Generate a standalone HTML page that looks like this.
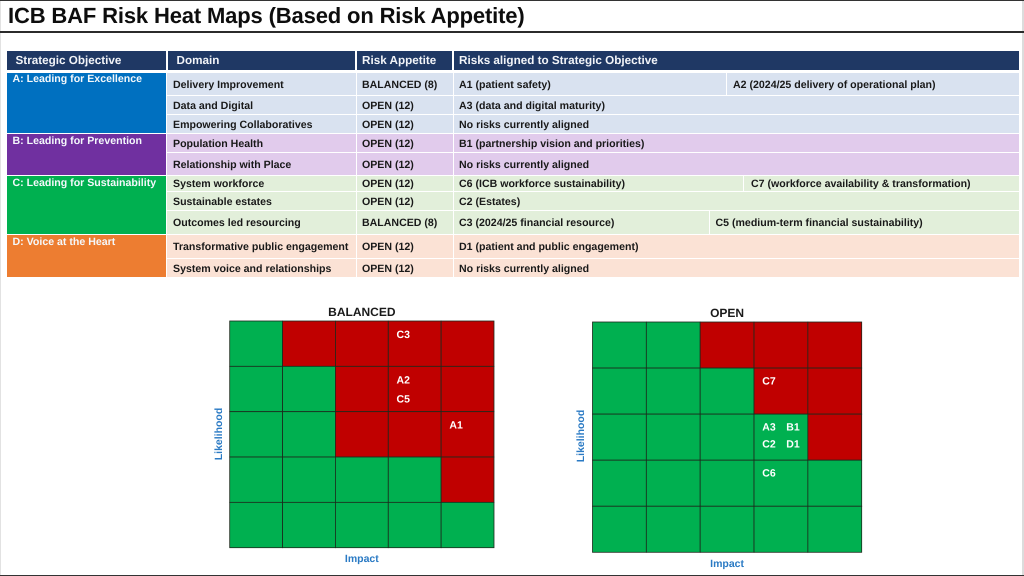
<!DOCTYPE html>
<html lang="en">
<head>
<meta charset="utf-8">
<title>ICB BAF Risk Heat Maps</title>
<style>
html,body{margin:0;padding:0;background:#fff}
#slide{position:relative;width:1024px;height:576px;overflow:hidden;background:#fff;font-family:"Liberation Sans",Arial,sans-serif;text-rendering:geometricPrecision}
#slide>div{position:absolute;box-sizing:border-box;display:flex;align-items:center;white-space:nowrap}
.h{background:#1f3864;color:#f2f4f8;font-weight:bold;font-size:11.7px}
.o{color:#f4f8fb;font-weight:bold;font-size:10.6px;align-items:flex-start !important;padding-left:5.5px}
.c{font-weight:bold;font-size:10.6px;color:#191919;padding-top:1.5px}
.a{background:#d9e2f0}.b{background:#e1cbec}.g{background:#e2efda}.d{background:#fbe2d5}
svg{position:absolute;left:0;top:0}
</style>
</head>
<body>
<div id="slide">
<div style="left:0;top:0;width:1024px;height:1px;background:#333"></div>
<div style="left:0;top:1px;width:1px;height:574px;background:#e2e2e2"></div>
<div style="left:1022px;top:1px;width:2px;height:574px;background:#dcdcdc"></div>
<div style="left:8px;top:1px;height:30px;font-size:22px;font-weight:bold;color:#0d0d0d;letter-spacing:-0.15px">ICB BAF Risk Heat Maps (Based on Risk Appetite)</div>
<div style="left:0;top:31px;width:1024px;height:2px;background:#2b2b2b"></div>
<div style="left:0;top:575px;width:1024px;height:1px;background:#333"></div>

<div class="h" style="left:7px;top:51px;width:159px;height:19px;padding-left:8.5px;padding-bottom:1px">Strategic Objective</div>
<div class="h" style="left:168px;top:51px;width:187px;height:19px;padding-left:8.5px;padding-bottom:1px">Domain</div>
<div class="h" style="left:357px;top:51px;width:95px;height:19px;padding-left:5px;padding-bottom:1px">Risk Appetite</div>
<div class="h" style="left:454px;top:51px;width:565px;height:19px;padding-left:5px;padding-bottom:1px">Risks aligned to Strategic Objective</div>

<div class="o" style="left:7px;top:73px;width:159px;height:60px;background:#0070c0;padding-top:0">A: Leading for Excellence</div>
<div class="o" style="left:7px;top:134px;width:159px;height:41px;background:#7030a0;padding-top:1px">B: Leading for Prevention</div>
<div class="o" style="left:7px;top:176px;width:159px;height:58px;background:#00b050;padding-top:1px">C: Leading for Sustainability</div>
<div class="o" style="left:7px;top:235px;width:159px;height:42px;background:#ed7d31;padding-top:1px">D: Voice at the Heart</div>

<div class="c a" style="left:167px;top:73px;width:189px;height:22px;padding-left:6px">Delivery Improvement</div>
<div class="c a" style="left:357px;top:73px;width:96px;height:22px;padding-left:5px">BALANCED (8)</div>
<div class="c a" style="left:454px;top:73px;width:272px;height:22px;padding-left:5px">A1 (patient safety)</div>
<div class="c a" style="left:727px;top:73px;width:292px;height:22px;padding-left:6px">A2 (2024/25 delivery of operational plan)</div>

<div class="c a" style="left:167px;top:96px;width:189px;height:18px;padding-left:6px">Data and Digital</div>
<div class="c a" style="left:357px;top:96px;width:96px;height:18px;padding-left:5px">OPEN (12)</div>
<div class="c a" style="left:454px;top:96px;width:565px;height:18px;padding-left:5px">A3 (data and digital maturity)</div>

<div class="c a" style="left:167px;top:115px;width:189px;height:18px;padding-left:6px">Empowering Collaboratives</div>
<div class="c a" style="left:357px;top:115px;width:96px;height:18px;padding-left:5px">OPEN (12)</div>
<div class="c a" style="left:454px;top:115px;width:565px;height:18px;padding-left:5px">No risks currently aligned</div>

<div class="c b" style="left:167px;top:134px;width:189px;height:18px;padding-left:6px">Population Health</div>
<div class="c b" style="left:357px;top:134px;width:96px;height:18px;padding-left:5px">OPEN (12)</div>
<div class="c b" style="left:454px;top:134px;width:565px;height:18px;padding-left:5px">B1 (partnership vision and priorities)</div>

<div class="c b" style="left:167px;top:153px;width:189px;height:22px;padding-left:6px">Relationship with Place</div>
<div class="c b" style="left:357px;top:153px;width:96px;height:22px;padding-left:5px">OPEN (12)</div>
<div class="c b" style="left:454px;top:153px;width:565px;height:22px;padding-left:5px">No risks currently aligned</div>

<div class="c g" style="left:167px;top:176px;width:189px;height:15px;padding-left:6px">System workforce</div>
<div class="c g" style="left:357px;top:176px;width:96px;height:15px;padding-left:5px">OPEN (12)</div>
<div class="c g" style="left:454px;top:176px;width:289px;height:15px;padding-left:5px">C6 (ICB workforce sustainability)</div>
<div class="c g" style="left:744px;top:176px;width:275px;height:15px;padding-left:7px">C7 (workforce availability &amp; transformation)</div>

<div class="c g" style="left:167px;top:192px;width:189px;height:18px;padding-left:6px">Sustainable estates</div>
<div class="c g" style="left:357px;top:192px;width:96px;height:18px;padding-left:5px">OPEN (12)</div>
<div class="c g" style="left:454px;top:192px;width:565px;height:18px;padding-left:5px">C2 (Estates)</div>

<div class="c g" style="left:167px;top:211px;width:189px;height:23px;padding-left:6px">Outcomes led resourcing</div>
<div class="c g" style="left:357px;top:211px;width:96px;height:23px;padding-left:5px">BALANCED (8)</div>
<div class="c g" style="left:454px;top:211px;width:255px;height:23px;padding-left:5px">C3 (2024/25 financial resource)</div>
<div class="c g" style="left:710px;top:211px;width:309px;height:23px;padding-left:5.5px">C5 (medium-term financial sustainability)</div>

<div class="c d" style="left:167px;top:235px;width:189px;height:23px;padding-left:6px">Transformative public engagement</div>
<div class="c d" style="left:357px;top:235px;width:96px;height:23px;padding-left:5px">OPEN (12)</div>
<div class="c d" style="left:454px;top:235px;width:565px;height:23px;padding-left:5px">D1 (patient and public engagement)</div>

<div class="c d" style="left:167px;top:259px;width:189px;height:18px;padding-left:6px">System voice and relationships</div>
<div class="c d" style="left:357px;top:259px;width:96px;height:18px;padding-left:5px">OPEN (12)</div>
<div class="c d" style="left:454px;top:259px;width:565px;height:18px;padding-left:5px">No risks currently aligned</div>

<svg id="charts" width="1024" height="576" viewBox="0 0 1024 576" xmlns="http://www.w3.org/2000/svg"></svg>
</div>

<script>
// Chart data: columns are Impact 1-5, rows run from Likelihood 5 (top) to 1 (bottom).
const impactLevels = [1, 2, 3, 4, 5];
const likelihoodLevels = [5, 4, 3, 2, 1];
const balancedAppetite = 8;
const openAppetite = 12;
const balancedScores = [
  [5, 10, 15, 20, 25],
  [4, 8, 12, 16, 20],
  [3, 6, 9, 12, 15],
  [2, 4, 6, 8, 10],
  [1, 2, 3, 4, 5]
];
const openScores = [
  [5, 10, 15, 20, 25],
  [4, 8, 12, 16, 20],
  [3, 6, 9, 12, 15],
  [2, 4, 6, 8, 10],
  [1, 2, 3, 4, 5]
];
// Risk labels: name, impact, likelihood.
const balancedRisks = [
  ['C3', 4, 5],
  ['A2', 4, 4],
  ['C5', 4, 4],
  ['A1', 5, 3]
];
const openRisks = [
  ['C7', 4, 4],
  ['A3', 4, 3],
  ['B1', 4, 3],
  ['C2', 4, 3],
  ['D1', 4, 3],
  ['C6', 4, 2]
];

const SVG_NS = 'http://www.w3.org/2000/svg';
const svg = document.getElementById('charts');

function svgEl(tag, attrs, parent) {
  const el = document.createElementNS(SVG_NS, tag);
  Object.keys(attrs).forEach(function (k) { el.setAttribute(k, attrs[k]); });
  parent.appendChild(el);
  return el;
}

function drawHeatMap(cfg) {
  const group = svgEl('g', {}, svg);
  
  

  const cellW = (cfg.right - cfg.left) / cfg.impacts.length;
  const cellH = (cfg.bottom - cfg.top) / cfg.likelihoods.length;
  const xAxis = function (impact) { return cfg.left + cfg.impacts.indexOf(impact) * cellW; };
  const yAxis = function (likelihood) { return cfg.top + cfg.likelihoods.indexOf(likelihood) * cellH; };

  cfg.likelihoods.forEach(function (likelihood, r) {
    cfg.impacts.forEach(function (impact, c) {
      const over = cfg.scores[r][c] > cfg.appetite;
      const cell = svgEl('rect', {
        x: xAxis(impact), y: yAxis(likelihood), width: cellW, height: cellH,
        fill: over ? '#c00000' : '#00b050', stroke: '#1c2a1c', 'stroke-width': 0.8
      }, group);
      
      
    });
  });

  const used = {};
  cfg.risks.forEach(function (risk) {
    const key = risk[1] + '-' + risk[2];
    const slot = used[key] || 0;
    used[key] = slot + 1;
    const col = slot % cfg.perRow;
    const row = Math.floor(slot / cfg.perRow);
    const t = svgEl('text', {
      x: xAxis(risk[1]) + cfg.labelDx + col * cfg.labelColGap,
      y: yAxis(risk[2]) + cfg.labelDy + row * cfg.labelRowGap,
      fill: '#ffffff', 'font-size': 10.5, 'font-weight': 'bold', 'text-anchor': 'middle',
      'font-family': '"Liberation Sans", Arial, sans-serif'
    }, group);
    t.textContent = risk[0];
    
    
  });

  const midX = (cfg.left + cfg.right) / 2;
  const title = svgEl('text', {
    x: midX, y: cfg.titleY, fill: '#1a1a1a', 'font-size': 12, 'font-weight': 'bold', 'text-anchor': 'middle',
    'font-family': '"Liberation Sans", Arial, sans-serif'
  }, group);
  title.textContent = cfg.title;
  
  

  const xTitle = svgEl('text', {
    x: midX, y: cfg.xTitleY, fill: '#2a7ac4', 'font-size': 10.5, 'font-weight': 'bold', 'text-anchor': 'middle',
    'font-family': '"Liberation Sans", Arial, sans-serif'
  }, group);
  xTitle.textContent = 'Impact';
  
  

  const yTitle = svgEl('text', {
    x: 0, y: 0, transform: 'translate(' + cfg.yTitleX + ' ' + cfg.yTitleY + ') rotate(-90)',
    fill: '#2a7ac4', 'font-size': 10.5, 'font-weight': 'bold', 'text-anchor': 'middle',
    'font-family': '"Liberation Sans", Arial, sans-serif'
  }, group);
  yTitle.textContent = 'Likelihood';
  
  
}

drawHeatMap({
  name: 'balanced', title: 'BALANCED', appetite: balancedAppetite,
  impacts: impactLevels, likelihoods: likelihoodLevels, scores: balancedScores, risks: balancedRisks,
  left: 229.7, right: 494, top: 321, bottom: 547.7,
  perRow: 1, labelDx: 15, labelDy: 17, labelColGap: 0, labelRowGap: 19,
  titleY: 316, xTitleY: 562, yTitleX: 222, yTitleY: 434
});
drawHeatMap({
  name: 'open', title: 'OPEN', appetite: openAppetite,
  impacts: impactLevels, likelihoods: likelihoodLevels, scores: openScores, risks: openRisks,
  left: 592.5, right: 861.7, top: 322, bottom: 552.3,
  perRow: 2, labelDx: 15, labelDy: 16.5, labelColGap: 24, labelRowGap: 17,
  titleY: 317, xTitleY: 567, yTitleX: 584, yTitleY: 436
});
</script>
</body>
</html>
